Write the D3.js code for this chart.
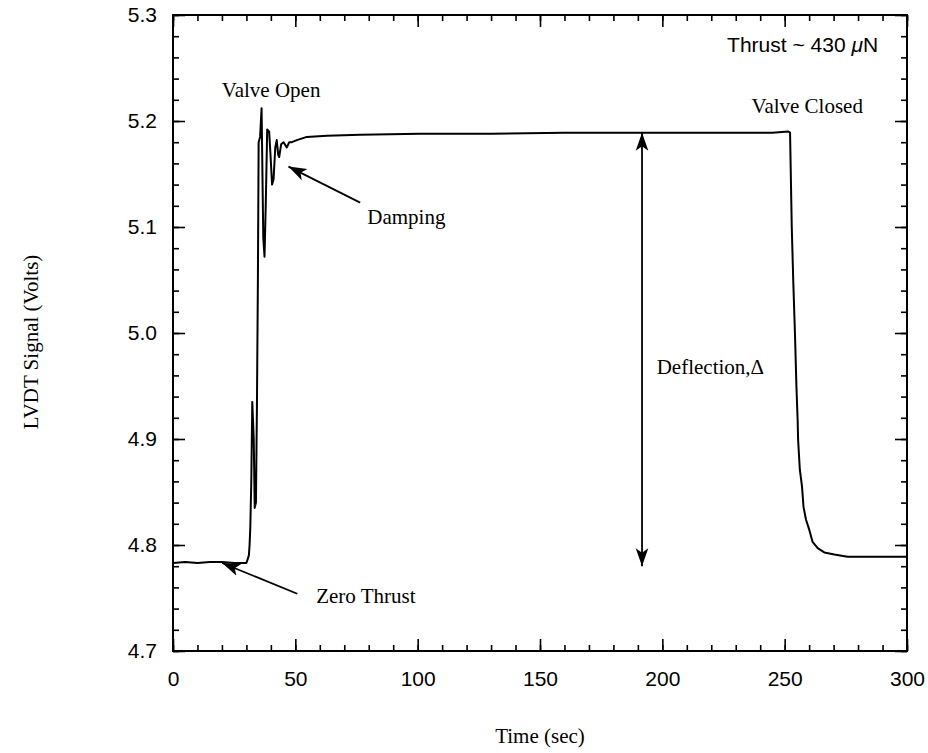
<!DOCTYPE html>
<html>
<head>
<meta charset="utf-8">
<script src="https://cdn.jsdelivr.net/npm/d3@7"></script>
<style>
  body { margin: 0; background: #fff; }
  svg { display: block; }
</style>
</head>
<body>
<svg width="928" height="753"></svg>
<script>
// tempo (s) e segnale LVDT (V)
var timeSec = [0, 5, 10, 15, 20, 25, 30, 31.0, 31.3, 31.6, 32.0, 32.4, 33.0, 33.4, 33.9, 34.3, 34.7, 35.0,
  35.6, 36.2, 36.5, 36.9, 37.4, 37.9, 38.5, 39.3, 39.8, 40.5, 41.1, 41.8, 42.4, 43.0, 43.4, 44.2, 45.2,
  46.5, 47.5, 48.6, 50.6, 54.7, 62.9, 76.5, 101, 130, 160, 190, 220, 245, 251.5, 252.2, 252.9, 253.5,
  254.2, 254.8, 255.3, 255.5, 256.2, 257.1, 257.7, 258.7, 260.1, 261.4, 263.5, 266.2, 270.3, 275.7, 285, 300];
var signalV = [4.783, 4.784, 4.783, 4.784, 4.784, 4.783, 4.783, 4.79, 4.80, 4.817, 4.86, 4.935, 4.90, 4.835,
  4.84, 4.93, 5.05, 5.18, 5.185, 5.212, 5.16, 5.09, 5.072, 5.12, 5.192, 5.19, 5.17, 5.14, 5.145, 5.175,
  5.182, 5.168, 5.166, 5.178, 5.180, 5.175, 5.18, 5.180, 5.182, 5.185, 5.186, 5.187, 5.188, 5.188, 5.189,
  5.189, 5.189, 5.189, 5.19, 5.189, 5.10, 5.05, 5.0, 4.95, 4.918, 4.899, 4.871, 4.855, 4.836, 4.824,
  4.814, 4.803, 4.797, 4.793, 4.791, 4.789, 4.789, 4.789];

var xTicks = [0, 50, 100, 150, 200, 250, 300];
var yTicks = [4.7, 4.8, 4.9, 5.0, 5.1, 5.2, 5.3];

var data = timeSec.map(function (t, i) { return { t: t, v: signalV[i] }; });

var svg = d3.select("svg");
var plotL = 173, plotR = 907, plotT = 15, plotB = 651;

var x = d3.scaleLinear().domain([0, 300]).range([plotL, plotR]);
var y = d3.scaleLinear().domain([4.7, 5.3]).range([plotB, plotT]);

var xMinor = d3.range(0, 301, 10);
var yMinor = d3.range(0, 31).map(function (i) { return +(4.7 + i * 0.02).toFixed(2); });

var sans = "'Liberation Sans', Arial, sans-serif";
var serif = "'Liberation Serif', 'Times New Roman', serif";

function styleAxis(g) {
  g.select(".domain").remove();
  g.selectAll("line").attr("stroke", "#000").attr("stroke-width", 1.6);
  g.selectAll("text").attr("font-family", sans).attr("font-size", 21).attr("fill", "#000");
}

// assi: tacche interne su tutti i lati
svg.append("g").attr("transform", "translate(0," + plotB + ")")
  .call(d3.axisBottom(x).tickValues(xMinor).tickSize(-6).tickFormat(""))
  .call(styleAxis);
svg.append("g").attr("transform", "translate(0," + plotB + ")")
  .call(d3.axisBottom(x).tickValues(xTicks).tickSizeInner(-12).tickSizeOuter(0).tickPadding(20).tickFormat(d3.format("d")))
  .call(styleAxis);
svg.append("g").attr("transform", "translate(0," + plotT + ")")
  .call(d3.axisTop(x).tickValues(xMinor).tickSize(-6).tickFormat(""))
  .call(styleAxis);
svg.append("g").attr("transform", "translate(0," + plotT + ")")
  .call(d3.axisTop(x).tickValues(xTicks).tickSize(-12).tickFormat(""))
  .call(styleAxis);
svg.append("g").attr("transform", "translate(" + plotL + ",0)")
  .call(d3.axisLeft(y).tickValues(yMinor).tickSize(-6).tickFormat(""))
  .call(styleAxis);
svg.append("g").attr("transform", "translate(" + plotL + ",0)")
  .call(d3.axisLeft(y).tickValues(yTicks).tickSizeInner(-12).tickSizeOuter(0).tickPadding(16).tickFormat(d3.format(".1f")))
  .call(styleAxis);
svg.append("g").attr("transform", "translate(" + plotR + ",0)")
  .call(d3.axisRight(y).tickValues(yMinor).tickSize(-6).tickFormat(""))
  .call(styleAxis);
svg.append("g").attr("transform", "translate(" + plotR + ",0)")
  .call(d3.axisRight(y).tickValues(yTicks).tickSize(-12).tickFormat(""))
  .call(styleAxis);

// cornice
svg.append("rect")
  .attr("x", plotL).attr("y", plotT)
  .attr("width", plotR - plotL).attr("height", plotB - plotT)
  .attr("fill", "none").attr("stroke", "#000").attr("stroke-width", 2);

// curva
svg.append("path")
  .datum(data)
  .attr("fill", "none")
  .attr("stroke", "#000")
  .attr("stroke-width", 2)
  .attr("stroke-linejoin", "round")
  .attr("d", d3.line().x(function (d) { return x(d.t); }).y(function (d) { return y(d.v); }));

// punta di freccia
svg.append("defs").append("marker")
  .attr("id", "head")
  .attr("viewBox", "0 0 10 10")
  .attr("refX", 10).attr("refY", 5)
  .attr("markerWidth", 18).attr("markerHeight", 18)
  .attr("markerUnits", "userSpaceOnUse")
  .attr("orient", "auto-start-reverse")
  .append("path")
  .attr("d", "M0,1.5 L10,5 L0,8.5 L2.5,5 Z")
  .attr("fill", "#000");

function arrow(t1, v1, t2, v2, both) {
  var l = svg.append("line")
    .attr("x1", x(t1)).attr("y1", y(v1))
    .attr("x2", x(t2)).attr("y2", y(v2))
    .attr("stroke", "#000").attr("stroke-width", 1.8)
    .attr("marker-end", "url(#head)");
  if (both) l.attr("marker-start", "url(#head)");
}

arrow(76.5, 5.123, 47.2, 5.157);
arrow(50.8, 4.754, 20.1, 4.783);
arrow(191.7, 4.78, 191.7, 5.189, true);

function label(t, v, txt, font, anchor) {
  return svg.append("text")
    .attr("x", x(t)).attr("y", y(v))
    .attr("font-family", font).attr("font-size", 21)
    .attr("text-anchor", anchor || "start")
    .attr("fill", "#000")
    .text(txt);
}

label(40.1, 5.223, "Valve Open", serif, "middle");
label(79.4, 5.103, "Damping", serif);
label(282, 5.208, "Valve Closed", serif, "end");
label(58.5, 4.745, "Zero Thrust", serif);
label(197.7, 4.961, "Deflection,\u0394", serif);

var thrust = label(288.2, 5.265, "Thrust ~ 430 ", sans, "end");
thrust.append("tspan").attr("font-style", "italic").text("\u03bc");
thrust.append("tspan").text("N");

// titoli degli assi
svg.append("text")
  .attr("x", (plotL + plotR) / 2).attr("y", 743)
  .attr("text-anchor", "middle")
  .attr("font-family", serif).attr("font-size", 21)
  .text("Time (sec)");

svg.append("text")
  .attr("transform", "translate(38," + ((plotT + plotB) / 2 + 9) + ") rotate(-90)")
  .attr("text-anchor", "middle")
  .attr("font-family", serif).attr("font-size", 21)
  .text("LVDT Signal (Volts)");
</script>
</body>
</html>
